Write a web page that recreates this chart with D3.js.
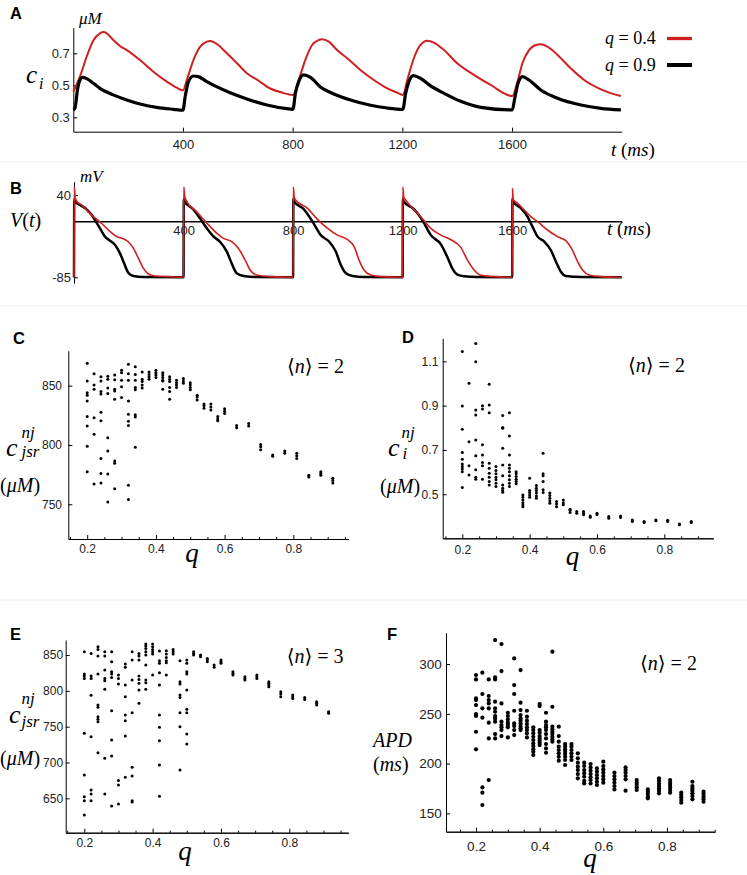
<!DOCTYPE html>
<html><head><meta charset="utf-8">
<script src="https://cdn.jsdelivr.net/npm/d3@7"></script>
<style>
body{margin:0;background:#fff;}
svg{display:block;background:#fff;}
</style></head><body>
<svg id="chart" width="747" height="875"></svg>
<script>
// ---------------- DATA ----------------
// Panel A: c_i (µM) vs t (ms)
const ciRedT = [0,24,49,73,97,110,122,146,170,195,243,292,341,377,400, 414,438,463,487,499,524,560,597,633,670,718,760,801, 822,846,871,895,907,932,962,999,1047,1096,1145,1180,1202, 1218,1242,1266,1291,1315,1352,1400,1461,1522,1601, 1620,1638,1662,1687,1705,1729,1766,1814,1863,1924,1997];
const ciRedV = [0.46,0.554,0.68,0.78,0.825,0.833,0.825,0.783,0.746,0.72,0.658,0.585,0.523,0.485,0.469, 0.533,0.658,0.742,0.773,0.777,0.758,0.70,0.638,0.575,0.535,0.48,0.455,0.44, 0.533,0.658,0.752,0.783,0.788,0.773,0.72,0.669,0.596,0.533,0.481,0.455,0.44, 0.533,0.669,0.752,0.779,0.767,0.72,0.6375,0.565,0.502,0.433, 0.523,0.6375,0.72,0.752,0.756,0.742,0.69,0.606,0.533,0.475,0.433];
const ciBlackT = [0,6,15,22,34,49,73,97,146,195,243,304,365,400, 408,420,438,456,487,524,572,633,706,779,801, 810,822,840,865,901,950,1011,1084,1145,1202, 1212,1224,1240,1266,1303,1352,1413,1486,1601, 1610,1622,1638,1662,1705,1766,1851,1924,1997];
const ciBlackV = [0.346,0.356,0.47,0.523,0.55,0.542,0.5125,0.481,0.44,0.408,0.383,0.3625,0.35,0.344, 0.43,0.523,0.558,0.554,0.523,0.49,0.454,0.415,0.377,0.354,0.35, 0.45,0.523,0.565,0.55,0.49,0.446,0.408,0.375,0.358,0.35, 0.45,0.523,0.56,0.544,0.496,0.45,0.4,0.3625,0.346, 0.419,0.5125,0.554,0.533,0.471,0.419,0.377,0.356,0.346];

// Panel B: V(t) (mV) vs t (ms)
const vRedT = [0,1,4,10,28,46,71,89,107,132,156,180,198,217,235,253,272,296,339,399, 400,401,404,412,448,472,497,521,546,576,600,625,643,667,716,799, 800,801,804,810,852,889,926,962,999,1023,1041,1059,1084,1120,1199, 1200,1201,1204,1212,1266,1303,1340,1376,1413,1437,1461,1486,1534,1599, 1600,1601,1604,1620,1644,1668,1693,1729,1766,1796,1820,1839,1857,1881,1924,2000];
const vRedV = [-85,52,37,30,25,17,7,1,-5.6,-15.7,-23.3,-26.4,-31,-41,-56,-71,-80,-83,-84,-85, -85,52,38,30,14.6,3,-8,-18,-26,-31,-41,-59,-74,-81.6,-84,-85, -85,52,37,32,20,3,-10.7,-21,-28,-38.5,-59,-74,-81.6,-84,-85, -85,52,37,32,7,-10.7,-21,-28,-40,-59,-74,-82,-84,-85, -85,50,33,27.3,17.2,7.1,-0.5,-13.2,-23.3,-29.4,-43.6,-61.3,-74,-81.6,-84,-85];
const vBlackT = [0,1,4,22,46,65,80,95,113,132,150,168,183,198,217,253,399, 400,401,404,436,460,485,509,533,558,576,594,619,667,799, 800,801,804,840,871,901,932,956,974,993,1017,1060,1199, 1200,1201,1204,1242,1272,1303,1340,1364,1382,1400,1425,1470,1599, 1600,1601,1604,1632,1656,1674,1693,1717,1741,1760,1778,1796,1851,2000];
const vBlackV = [-85,34,30,24.8,18.2,9.6,-0.5,-10.7,-23.3,-29.4,-36,-48.7,-63.8,-78,-83,-84.6,-85, -85,34,30,18,4.5,-10.7,-23,-31,-46,-64,-79,-83,-84.6,-85, -85,34,30,18,-0.5,-21,-31,-46,-66,-79,-83,-84.6,-85, -85,34,30,18,2,-21,-35,-55,-72,-81,-83.5,-84.6,-85, -85,34,30,19.8,7.1,-8.1,-23.3,-30.9,-43.6,-61.3,-76.5,-83,-84.6,-85];

const timeTicks = [400,800,1200,1600];
const ciTicks = [0.3,0.5,0.7];
const vTicks = [40,-85];
const legendLabels = ["0.4","0.9"];

// Panel C: c_jsr^nj vs q, <n>=2
const qGrid = [0.2,0.22,0.24,0.26,0.28,0.30,0.32,0.34,0.36,0.38,0.40,0.42,0.44,0.46,0.48,0.50,0.52,0.54,0.56,0.58,0.60,0.635,0.67,0.705,0.74,0.775,0.81,0.845,0.88,0.915];
const cVals = [
[869,854,844,842,837,824,816,799,777.5],
[860,850.5,847,823,809,767],
[857.5,854,845,843,827.5,820.5,788.5,776,768],
[858,855.5,848,843.5,806,795,775.5,752],
[859,855,847,845.5,838.5,786.5,784.5,763],
[863,861,854.5,849,840],
[868,860,854.5,837,826,820,816.5,766,754],
[866,859.5,854.5,848.5,846.5,825.5,823.5,798],
[861.5,855.5,853.5,850.5,848],
[861.5,859.5,857.5,855.5],
[863,861,859,857],
[861,859,857,854.5,854,847],
[857.5,855.5,853.5,848.5,845,838.5],
[854.5,852.5,850.5,848.5],
[856,854,852],
[852.5,850.5,848.5,846.5],
[842,840.5,838],
[834.5,833,831],
[834.5,832,829.5],
[824,822,820.5],
[830.5,828.5,826.5],
[816.5,814.5],
[818,816],
[800.5,798.5,796],
[791.5,790.5],
[795,793],
[793,791,788.5],
[774.5,773],
[777.5,776,774.5],
[772,770,768]
];
const cTicks = [750,800,850];

// Panel D: c_i^nj vs q, <n>=2
const dQ = qGrid.slice(0,29);
const dVals = [
[1.144,0.898,0.793,0.688,0.658,0.637,0.625,0.614,0.602,0.530],
[1.001,0.737,0.629,0.587],
[1.181,1.098,0.880,0.858,0.745,0.674,0.610,0.577,0.568],
[0.900,0.885,0.723,0.677,0.643,0.628,0.568],
[0.996,0.903,0.868,0.640,0.617,0.595,0.577,0.557,0.542],
[0.625,0.607,0.592,0.577,0.565,0.550,0.535],
[0.855,0.801,0.798,0.708,0.632,0.583,0.542,0.527,0.517,0.509],
[0.868,0.763,0.677,0.632,0.617,0.602,0.583,0.565,0.550,0.535],
[0.602,0.592,0.580,0.568,0.557,0.547],
[0.497,0.486,0.474,0.462,0.452,0.444],
[0.572,0.517,0.508,0.497,0.486],
[0.539,0.527,0.517,0.505,0.492,0.482],
[0.685,0.592,0.583,0.557,0.520,0.508],
[0.505,0.494,0.482,0.471,0.459],
[0.467,0.456,0.444],
[0.474,0.462,0.452],
[0.432,0.426,0.417],
[0.422,0.414],
[0.422,0.414,0.407],
[0.402,0.396],
[0.414,0.407],
[0.399,0.392],
[0.402,0.395],
[0.384,0.377],
[0.377,0.372],
[0.384,0.380],
[0.383,0.377],
[0.366,0.362],
[0.377,0.372]
];
const dTicks = [0.5,0.7,0.9,1.1];

// Panel E: c_jsr^nj vs q, <n>=3
const eVals = [
[854.7,823.5,820.7,817.4,740.7,682.6,652.3,646.7,626.7],
[852.3,820.7,817.4,794,736,661.6,656,646.7],
[861.6,857.9,848.6,823.5,780.2,777,764,760.2,757,713.7],
[854.7,848.6,829.1,817.4,814.2,802.1,705.8,656],
[854.7,840.7,826.7,823.5,818.8,772.3,731.4,709.1,639.3],
[822.1,817.4,809.5,674.7,668.6,642.1],
[837.4,832.8,808.1,791.9,766.3,758.4,737,679.3],
[854.7,843,815.1,769.5,693.3,681.2,646.7,644.9],
[852.3,848.6,843,820.7,816,810.5,801.2,782.6],
[865.3,862.6,859.3,854.7,850,836,815.1,811.4,802.1],
[865.3,861.6,857.9,854.7,851.4,822.1],
[855.6,842.1,838.4,825.3,808.1,766.3,749.1,730.5,696.5,653],
[856,851.4,846.7,842.1,839.3,822.1],
[857.9,854.7,851.4],
[842.1,812.8,809.5,794.2,790.9,769.5,750,689.5],
[843,838.4,826.7,823.5,801.2,774.2,769.5,739.8,725.8],
[854.7,852.3,850],
[850,847.7],
[845.3,843,840.7],
[836,832.8],
[843,840.7,838.4],
[826.7,824.4,822.1],
[819.8,817.4,815.1],
[822.1,819.8,817.4],
[812.8,810.5,808.1,805.8],
[798.8,795.6,791.9],
[794.2,791.9,789.5],
[790.9,788.1],
[784.9,782.6,780.2],
[770.9,768.6]
];
const eTicks = [650,700,750,800,850];

// Panel F: APD (ms) vs q, <n>=2
const fVals = [
[289,284.6,265.5,263.8,258.8,249.8,247.8,232,214.3],
[291.3,269.9,255.5,246.1,176.1,170.8,158.4],
[284.6,267.9,263.8,260.5,255.5,241.1,225.3,183.5],
[324.1,286.6,284.6,262.2,255.5,252.1,247.8,245.4,242.1,229.7,225.3],
[320.1,293,260.5,242.1,238.7,236.4,233.7,227.7],
[251.1,247.8,244.4,241.1,238.7,236.4,226.3],
[305.7,278.9,269.9,253.1,240.4,237.7,233.7,228.7],
[294,261.2,253.8,248.8,245.4,243.1,240.4,237.7,235.4,233.7],
[253.1,247.1,243.1,239.7,236.4,233.7,230.4,226.3],
[236.4,233.7,230.4,227,223.7,220.3,217.6,214.3,212,208.6],
[259.8,257.8,233.7,231,227.7,225.3,223,221,218.6],
[251.1,242.1,238.7,236.4,233.7,229.7,225.3,219.7,215.3,210.9],
[312.4,257.1,237.1,234.4,232,229.7,227,224.3,222],
[237.1,227.7,222,217,213.6,210.3,206.9,202.9],
[219.7,217,214.3,212,209.6,206.9,203.6,198.6],
[219.7,217,213.6,210.3,206.9,203.6],
[210.3,205.3,200.9,196.9,193.5,189.5,185.2],
[200.9,197.6,193.5,190.2,186.8,182.8,180.1],
[199.6,196.2,192.9,189.5,186.2,183.5,180.1],
[195.2,191.9,188.5,185.2,181.8,178.5],
[201.9,197.6,194.2,190.9,187.5,184.2,180.8],
[190.9,187.5,184.2,180.8,177.5,174.1],
[196.2,193.5,190.9,187.5,184.2,172.8],
[183.5,180.8,178.5,176.1,173.5],
[174.1,171.8,169.4,166.8,165.1],
[185.2,182.8,180.1,177.5,175.1,172.8,170.1],
[183.5,180.8,178.5,176.1,173.5,170.8],
[170.8,168.4,166.1,163.4,160.7],
[181.8,177.5,175.1,172.8,170.1,167.4,164.1],
[171.8,169.4,166.8,164.1,161.7]
];
const fTicks = [150,200,250,300];
const qTicks = [0.2,0.4,0.6,0.8];

// ---------------- DRAWING ----------------
const RED = "#d01f1f";
const tickFont = "'Liberation Sans', Arial, Helvetica, sans-serif";
const mathFont = "'Liberation Serif', 'DejaVu Serif', serif";
const svg = d3.select("#chart");

// faint panel separators
[162, 306, 600].forEach(y => svg.append("line").attr("x1",0).attr("x2",747).attr("y1",y).attr("y2",y)
  .attr("stroke","#eeeeee").attr("stroke-width",1));

function mtext(x, y, parts, size, anchor) {
  const t = svg.append("text").attr("x",x).attr("y",y).attr("font-family",mathFont)
    .attr("font-size",size).attr("text-anchor",anchor||"start").attr("fill","#000");
  parts.forEach(p => t.append("tspan").attr("font-style", p[1] ? "italic" : "normal").text(p[0]));
  return t;
}
function letter(x, y, s) {
  svg.append("text").attr("x",x).attr("y",y).attr("font-family",tickFont).attr("font-weight","bold")
    .attr("font-size",16.5).text(s);
}
function styleAxis(g, fs, sw) {
  g.selectAll("path.domain").attr("stroke","#000").attr("stroke-width", sw||1);
  g.selectAll(".tick line").attr("stroke","#000");
  g.selectAll(".tick text").attr("font-family",tickFont).attr("font-size",fs).attr("fill","#222");
  g.attr("font-family",null).attr("font-size",null);
}

// ----- Panel A -----
const xA = d3.scaleLinear().domain([0,2000]).range([73.3,621.7]);
const yA = d3.scaleLinear().domain([0.21,0.86]).range([131.7,27.7]);
const gAx = svg.append("g").attr("transform",`translate(0,${yA.range()[0]})`)
  .call(d3.axisBottom(xA).tickValues(timeTicks).tickSizeInner(-4).tickSizeOuter(0).tickPadding(8).tickFormat(d3.format("d")));
styleAxis(gAx, 13);
const gAy = svg.append("g").attr("transform",`translate(${xA.range()[0]},0)`)
  .call(d3.axisLeft(yA).tickValues(ciTicks).tickSizeInner(-4).tickSizeOuter(0).tickPadding(3.5).tickFormat(d3.format(".1f")));
styleAxis(gAy, 13);
const lineA = d3.line().curve(d3.curveMonotoneX);
svg.append("path").attr("d", lineA(ciRedT.map((t,i)=>[xA(t), yA(ciRedV[i])])))
  .attr("fill","none").attr("stroke",RED).attr("stroke-width",2);
svg.append("path").attr("d", lineA(ciBlackT.map((t,i)=>[xA(t), yA(ciBlackV[i])])))
  .attr("fill","none").attr("stroke","#000").attr("stroke-width",3.2);
letter(10, 18.5, "A");
mtext(79, 24, [["μM",true]], 17);
mtext(26, 83, [["c",true]], 25);
mtext(39, 89, [["i",true]], 16);
mtext(611, 156, [["t",true],[" ("],["ms",true],[")"]], 19);
// legend
mtext(605, 44, [["q",true],[" = "+legendLabels[0]]], 18);
svg.append("line").attr("x1",667).attr("x2",692).attr("y1",38.5).attr("y2",38.5).attr("stroke",RED).attr("stroke-width",3.3);
mtext(605, 70.5, [["q",true],[" = "+legendLabels[1]]], 18);
svg.append("line").attr("x1",667).attr("x2",692).attr("y1",65).attr("y2",65).attr("stroke","#000").attr("stroke-width",4);

// ----- Panel B -----
const xB = d3.scaleLinear().domain([0,2000]).range([74,621.7]);
const yB = d3.scaleLinear().domain([-94,60]).range([283.2,181.8]);
const gBx = svg.append("g").attr("transform",`translate(0,${yB(0)})`)
  .call(d3.axisBottom(xB).tickValues(timeTicks).tickSizeInner(-3).tickSizeOuter(0).tickPadding(4.5).tickFormat(d3.format("d")));
styleAxis(gBx, 13, 1.4);
const gBy = svg.append("g").attr("transform",`translate(${xB.range()[0]},0)`)
  .call(d3.axisLeft(yB).tickValues(vTicks).tickSizeInner(-4).tickSizeOuter(0).tickPadding(3).tickFormat(d => String(d)));
styleAxis(gBy, 13);
const lineB = d3.line().curve(d3.curveMonotoneX);
svg.append("path").attr("d", lineB(vBlackT.map((t,i)=>[xB(t), yB(vBlackV[i])])))
  .attr("fill","none").attr("stroke","#000").attr("stroke-width",2.5);
svg.append("path").attr("d", lineB(vRedT.map((t,i)=>[xB(t), yB(vRedV[i])])))
  .attr("fill","none").attr("stroke",RED).attr("stroke-width",1.6);
letter(10, 193.5, "B");
mtext(80, 182, [["mV",true]], 17);
mtext(10, 227, [["V",true],["("],["t",true],[")"]], 20);
mtext(607, 235, [["t",true],[" ("],["ms",true],[")"]], 19);

// ----- Scatter panels -----
function scatter(o) {
  const x = d3.scaleLinear().domain(o.xDom).range([o.left, o.right]);
  const y = d3.scaleLinear().domain(o.yDom).range([o.bottom, o.top]);
  const minor = d3.range(0.15, o.xDom[1], 0.05).filter(v => v > o.xDom[0] && Math.abs(Math.round(v*5)-v*5) > 1e-6);
  const gm = svg.append("g").attr("transform",`translate(0,${o.bottom})`)
    .call(d3.axisBottom(x).tickValues(minor).tickSizeInner(-2).tickSizeOuter(0).tickFormat(""));
  styleAxis(gm, o.fs);
  const gx = svg.append("g").attr("transform",`translate(0,${o.bottom})`)
    .call(d3.axisBottom(x).tickValues(qTicks).tickSizeInner(-4).tickSizeOuter(0).tickPadding(o.xPad).tickFormat(d3.format(".1f")));
  styleAxis(gx, o.fs);
  const gy = svg.append("g").attr("transform",`translate(${o.left},0)`)
    .call(d3.axisLeft(y).tickValues(o.yTicks).tickSizeInner(-4).tickSizeOuter(0).tickPadding(o.yPad).tickFormat(o.yFmt));
  styleAxis(gy, o.fs);
  const pts = [];
  o.q.forEach((qq,i) => o.vals[i].forEach(v => pts.push([qq,v])));
  svg.append("g").selectAll("circle").data(pts).join("circle")
    .attr("cx", d => x(d[0])).attr("cy", d => y(d[1])).attr("r", o.r).attr("fill","#000");
}

// C
scatter({left:68.3,right:348.3,bottom:539,top:350.7,xDom:[0.145,0.96],yDom:[720.7,879.5],
  yTicks:cTicks,yFmt:d3.format("d"),fs:12,xPad:5.5,yPad:6.3,q:qGrid,vals:cVals,r:1.5});
letter(13, 343.5, "C");
mtext(287, 373, [["⟨"],["n",true],["⟩ = 2"]], 20);
mtext(6, 456, [["c",true]], 26);
mtext(21.5, 438, [["nj",true]], 17);
mtext(21.5, 457, [["jsr",true]], 17);
mtext(0, 492, [["("],["μM",true],[")"]], 20);
mtext(192, 562, [["q",true]], 27, "middle");

// D
scatter({left:442.7,right:713.3,bottom:538.3,top:338.3,xDom:[0.1418,0.9455],yDom:[0.301,1.204],
  yTicks:dTicks,yFmt:d3.format(".1f"),fs:12,xPad:7.2,yPad:4.4,q:dQ,vals:dVals,r:1.5});
letter(402, 343, "D");
mtext(628, 372, [["⟨"],["n",true],["⟩ = 2"]], 20);
mtext(388, 456, [["c",true]], 26);
mtext(401.5, 438, [["nj",true]], 17);
mtext(402.5, 459, [["i",true]], 17);
mtext(380, 493, [["("],["μM",true],[")"]], 20);
mtext(572.5, 565, [["q",true]], 27, "middle");

// E
scatter({left:65.7,right:348.3,bottom:832.7,top:640,xDom:[0.1456,0.9726],yDom:[602,871],
  yTicks:eTicks,yFmt:d3.format("d"),fs:12,xPad:5.5,yPad:2.6,q:qGrid,vals:eVals,r:1.5});
letter(10, 640, "E");
mtext(286.7, 663, [["⟨"],["n",true],["⟩ = 3"]], 20);
mtext(9, 723, [["c",true]], 26);
mtext(21.5, 704, [["nj",true]], 17);
mtext(21.5, 727, [["jsr",true]], 17);
mtext(0, 765, [["("],["μM",true],[")"]], 20);
mtext(185, 860, [["q",true]], 27, "middle");

// F
scatter({left:446,right:715,bottom:831.7,top:632.7,xDom:[0.1057,0.951],yDom:[131.6,331.5],
  yTicks:fTicks,yFmt:d3.format("d"),fs:13.5,xPad:10,yPad:4.3,q:qGrid,vals:fVals,r:2.1});
letter(387, 640, "F");
mtext(640, 670, [["⟨"],["n",true],["⟩ = 2"]], 20);
mtext(373, 746.5, [["APD",true]], 20);
mtext(373, 771, [["("],["ms",true],[")"]], 20);
mtext(590, 867, [["q",true]], 27, "middle");
</script>
</body></html>
